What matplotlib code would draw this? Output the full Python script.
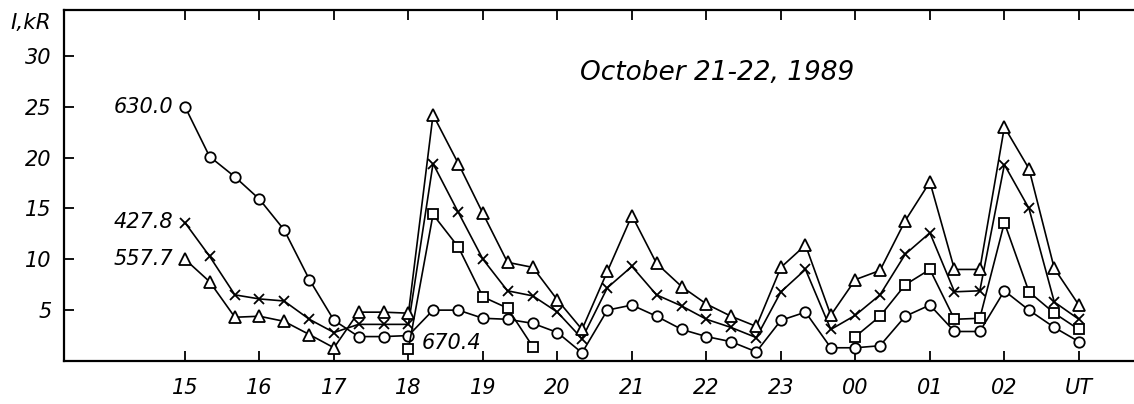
import matplotlib
matplotlib.use("Agg")
import matplotlib.pyplot as plt
import numpy as np

nan = np.nan

# sample times, hours UT (24 = 00, 25 = 01 ...), every 20 min
times = [15.0, 15.33, 15.67, 16.0, 16.33, 16.67, 17.0, 17.33, 17.67, 18.0,
         18.33, 18.67, 19.0, 19.33, 19.67, 20.0, 20.33, 20.67, 21.0, 21.33,
         21.67, 22.0, 22.33, 22.67, 23.0, 23.33, 23.67, 24.0, 24.33, 24.67,
         25.0, 25.33, 25.67, 26.0, 26.33, 26.67, 27.0]

i_630 = [25.0, 20.1, 18.1, 15.9, 12.9, 8.0, 4.0, 2.4, 2.4, 2.5,
         5.0, 5.0, 4.2, 4.1, 3.7, 2.8, 0.8, 5.0, 5.5, 4.4,
         3.1, 2.4, 1.9, 0.9, 4.0, 4.8, 1.3, 1.3, 1.5, 4.4,
         5.5, 2.9, 2.9, 6.9, 5.0, 3.3, 1.9]
i_4278 = [13.6, 10.3, 6.5, 6.1, 5.9, 4.1, 2.8, 3.6, 3.6, 3.6,
          19.4, 14.6, 10.0, 6.9, 6.4, 4.8, 2.2, 7.2, 9.3, 6.5,
          5.4, 4.1, 3.3, 2.3, 6.8, 9.0, 3.1, 4.5, 6.5, 10.5,
          12.6, 6.8, 6.9, 19.3, 15.0, 5.8, 4.1]
i_5577 = [10.0, 7.8, 4.3, 4.4, 3.9, 2.6, 1.3, 4.8, 4.8, 4.7,
          24.2, 19.4, 14.5, 9.7, 9.2, 6.0, 3.1, 8.8, 14.3, 9.6,
          7.3, 5.6, 4.4, 3.4, 9.2, 11.4, 4.5, 8.0, 8.9, 13.8,
          17.6, 9.0, 9.0, 23.0, 18.9, 9.1, 5.5]
i_6704 = [nan, nan, nan, nan, nan, nan, nan, nan, nan, 1.2,
          14.4, 11.2, 6.3, 5.2, 1.4, nan, nan, nan, nan, nan,
          nan, nan, nan, nan, nan, nan, nan, 2.4, 4.4, 7.5,
          9.0, 4.1, 4.2, 13.6, 6.8, 4.7, 3.1]

tick_pos = [15, 16, 17, 18, 19, 20, 21, 22, 23, 24, 25, 26, 27]
tick_labels = ["15", "16", "17", "18", "19", "20", "21", "22", "23",
               "00", "01", "02", "UT"]

plt.rcParams["font.family"] = "DejaVu Sans"
plt.rcParams["font.style"] = "italic"

fig = plt.figure(figsize=(11.34, 4.04), dpi=100)
ax = fig.add_axes([64 / 1134, 43 / 404, 1070 / 1134, 351 / 404])

style = dict(color="black", linewidth=1.2, markerfacecolor="white",
             markeredgecolor="black", markeredgewidth=1.3)
ax.plot(times, i_630, marker="o", markersize=7.5, **style)
ax.plot(times, i_4278, marker="x", markersize=7.5, **style)
ax.plot(times, i_5577, marker="^", markersize=8, **style)
ax.plot(times, i_6704, marker="s", markersize=6.5, **style)

ax.set_xlim(13.376, 27.74)
ax.set_ylim(0, 34.5)
ax.set_xticks(tick_pos)
ax.set_xticklabels(tick_labels)
ax.set_yticks([5, 10, 15, 20, 25, 30])

ax.tick_params(axis="both", direction="in", length=7, width=1.3,
               labelsize=15, top=True)
ax.tick_params(axis="x", pad=12)
ax.tick_params(axis="y", pad=9)
for side in ["left", "bottom", "top"]:
    ax.spines[side].set_linewidth(1.6)
ax.spines["right"].set_visible(False)

txt = dict(fontsize=15, ha="right", va="center")
ax.text(14.84, 25.0, "630.0", **txt)
ax.text(14.84, 13.7, "427.8", **txt)
ax.text(14.84, 10.0, "557.7", **txt)
ax.text(18.18, 1.8, "670.4", fontsize=15, ha="left", va="center")

ax.text(22.14, 28.3, "October 21-22, 1989", fontsize=19,
        ha="center", va="center")
fig.text(31 / 1134, 1 - 23 / 404, "I,kR", fontsize=15.5,
         ha="center", va="center")

plt.savefig("out.png", dpi=100)
plt.close()
